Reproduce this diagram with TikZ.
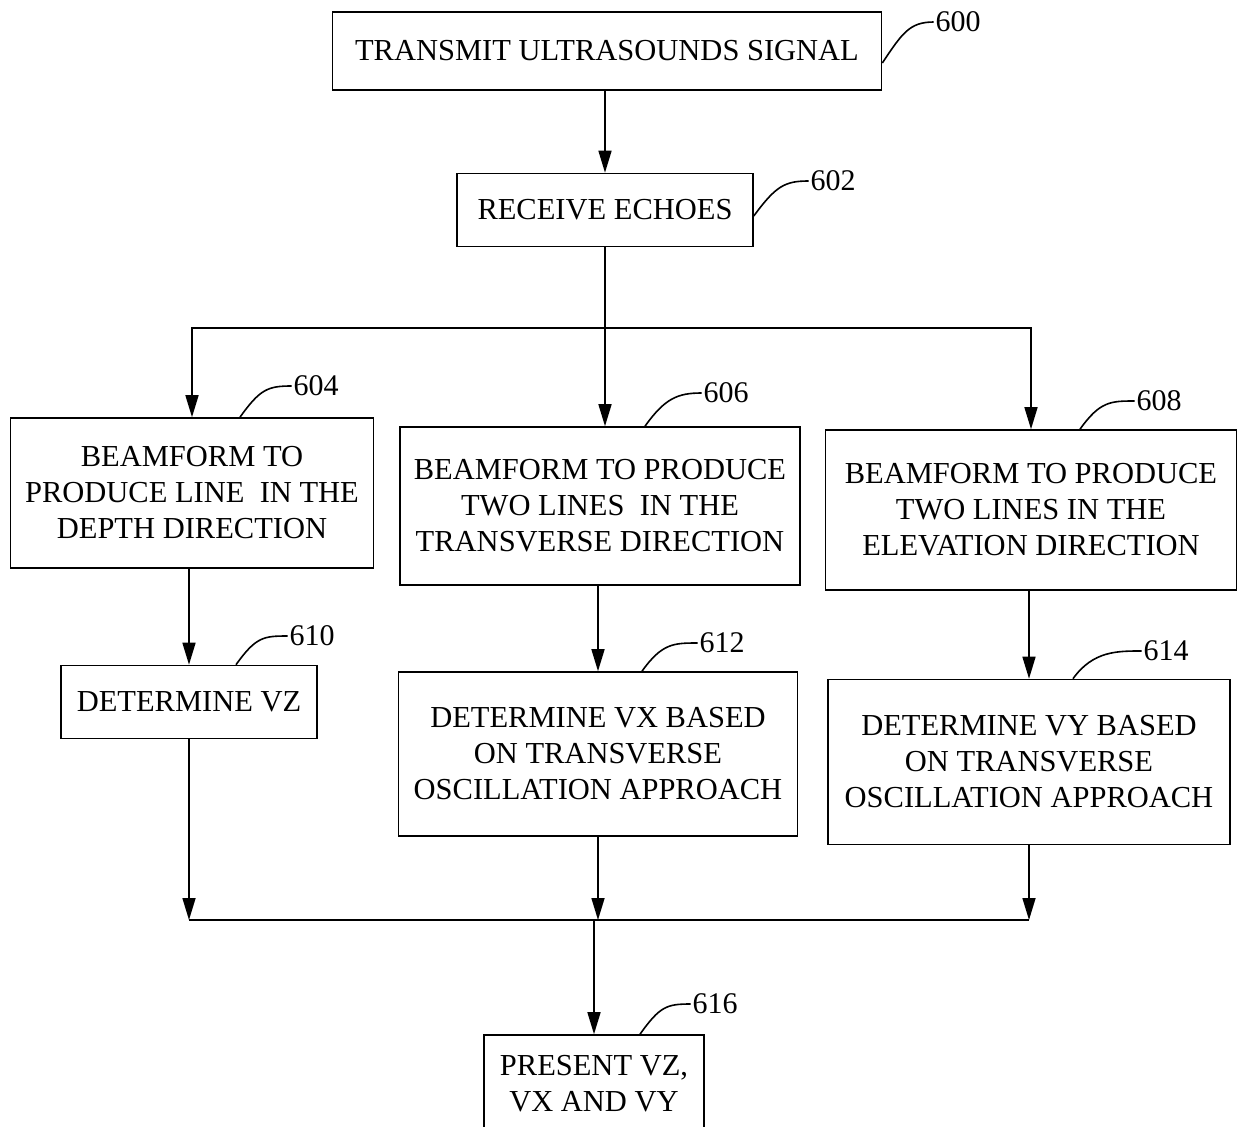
\documentclass[tikz,border=0pt]{standalone}
\usepackage{fontspec}
\setmainfont{Liberation Serif}
\usetikzlibrary{calc}
\usetikzlibrary{positioning}
\usetikzlibrary{arrows.meta}

\begin{document}
\begin{tikzpicture}[x=1pt, y=-1pt, line width=1.6pt,
    stepbox/.style={draw, align=center, inner sep=0pt,
      font=\fontsize{30.5}{36}\selectfont},
    refnum/.style={inner sep=1pt, font=\fontsize{30}{36}\selectfont},
    arr/.style={-{Triangle[length=22pt, width=13pt]}},
    lead/.style={line width=1.6pt}]
      \useasboundingbox (0,0) rectangle (1237,1127);

      \node[stepbox, minimum width=549, minimum height=78] (b600) at (607,51)
        {TRANSMIT ULTRASOUNDS SIGNAL};
      \node[stepbox, minimum width=296, minimum height=73] (b602) at (605,210)
        {RECEIVE ECHOES};
      \node[stepbox, minimum width=363, minimum height=150] (b604) at (192,493)
        {BEAMFORM TO\\PRODUCE LINE\ \ IN THE\\DEPTH DIRECTION};
      \node[stepbox, minimum width=400, minimum height=158] (b606) at (600,506)
        {BEAMFORM TO PRODUCE\\TWO LINES\ \ IN THE\\TRANSVERSE DIRECTION};
      \node[stepbox, minimum width=411, minimum height=160] (b608) at (1031,510)
        {BEAMFORM TO PRODUCE\\TWO LINES IN THE\\ELEVATION DIRECTION};
      \node[stepbox, minimum width=256, minimum height=73] (b610) at (189,702)
        {DETERMINE VZ};
      \node[stepbox, minimum width=399, minimum height=164] (b612) at (598,754)
        {DETERMINE VX BASED\\ON TRANSVERSE\\OSCILLATION APPROACH};
      \node[stepbox, minimum width=402, minimum height=165] (b614) at (1029,762)
        {DETERMINE VY BASED\\ON TRANSVERSE\\OSCILLATION APPROACH};
      \node[stepbox, minimum width=220, minimum height=98] (b616) at (594,1084)
        {PRESENT VZ,\\VX AND VY};

      \node[refnum] (l600) at (958,22) {600};
      \node[refnum] (l602) at (833,181) {602};
      \node[refnum] (l604) at (316,386) {604};
      \node[refnum] (l606) at (726,393) {606};
      \node[refnum] (l608) at (1159,401) {608};
      \node[refnum] (l610) at (312,636) {610};
      \node[refnum] (l612) at (722,643) {612};
      \node[refnum] (l614) at (1166,651) {614};
      \node[refnum] (l616) at (715,1004) {616};

      \draw[lead] ([yshift=-12pt]b600.east) .. controls +(20,-30) and +(-24,0) .. (l600.west);
      \draw[lead] ([yshift=-6pt]b602.east) .. controls +(22,-30) and +(-24,0) .. (l602.west);
      \draw[lead] ([xshift=48pt]b604.north) .. controls +(20,-28) and +(-24,0) .. (l604.west);
      \draw[lead] ([xshift=45pt]b606.north) .. controls +(20,-28) and +(-24,0) .. (l606.west);
      \draw[lead] ([xshift=49pt]b608.north) .. controls +(20,-28) and +(-24,0) .. (l608.west);
      \draw[lead] ([xshift=47pt]b610.north) .. controls +(20,-28) and +(-24,0) .. (l610.west);
      \draw[lead] ([xshift=44pt]b612.north) .. controls +(20,-28) and +(-24,0) .. (l612.west);
      \draw[lead] ([xshift=44pt]b614.north) .. controls +(20,-28) and +(-24,0) .. (l614.west);
      \draw[lead] ([xshift=46pt]b616.north) .. controls +(20,-28) and +(-24,0) .. (l616.west);

      \coordinate (split) at (605,328);
      \coordinate (m610) at (189,920);
      \coordinate (m612) at (598,920);
      \coordinate (m614) at (1029,920);

      \draw[arr] (b600.south -| b602.north) -- (b602.north);
      \draw[arr] (b602.south) -- (b602.south |- b606.north);
      \draw[arr] (split) -| (b604);
      \draw[arr] (split) -| (b608);
      \draw[arr] (b604.south -| b610.north) -- (b610.north);
      \draw[arr] (b606.south -| b612.north) -- (b612.north);
      \draw[arr] (b608.south -| b614.north) -- (b614.north);
      \draw[arr] (b610) -- (m610);
      \draw[arr] (b612) -- (m612);
      \draw[arr] (b614) -- (m614);
      \draw (m610) -- (m614);
      \draw[arr] (m612 -| b616.north) -- (b616.north);
\end{tikzpicture}
\end{document}
